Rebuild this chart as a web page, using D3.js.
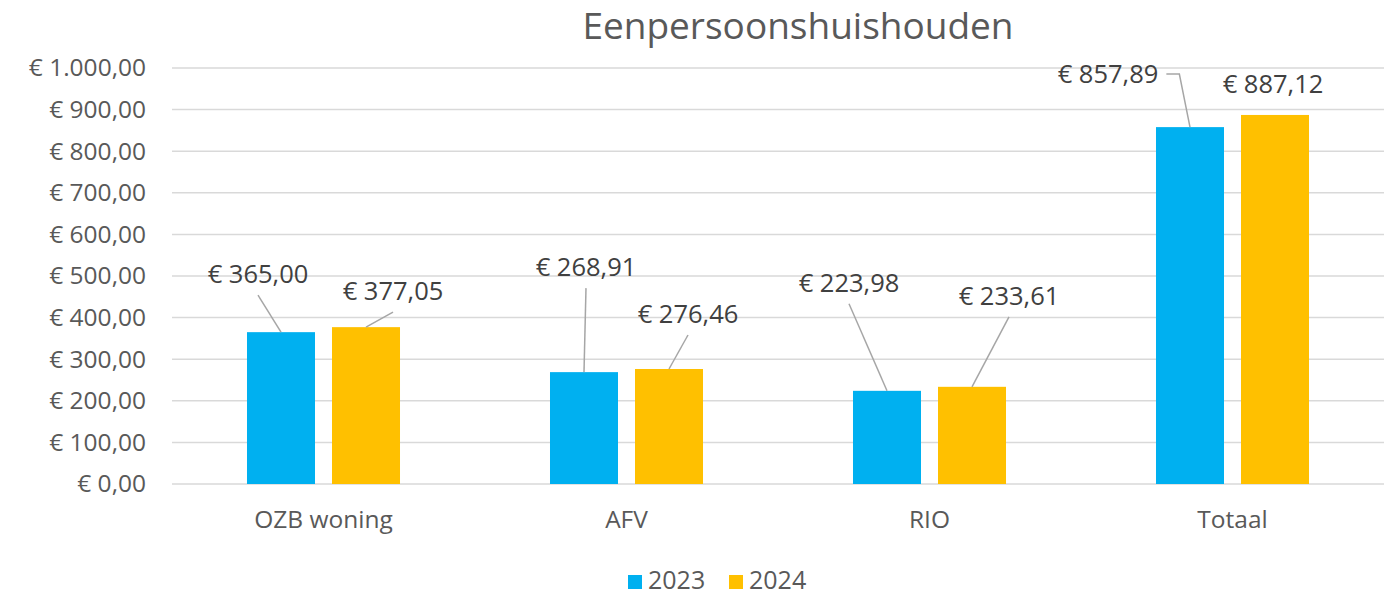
<!DOCTYPE html>
<html>
<head>
<meta charset="utf-8">
<script src="https://cdn.jsdelivr.net/npm/d3@7"></script>
<style>
  body { margin: 0; background: #fff; }
  svg { font-family: "Open Sans", "Noto Sans", sans-serif; }
</style>
</head>
<body>
<svg id="chart"></svg>
<script>
var width = 1391;
var height = 595;

// data
var categories = ["OZB woning", "AFV", "RIO", "Totaal"];
var series = ["2023", "2024"];
var values2023 = [365.00, 268.91, 223.98, 857.89];
var values2024 = [377.05, 276.46, 233.61, 887.12];
var yTicks = [0, 100, 200, 300, 400, 500, 600, 700, 800, 900, 1000];
var colors = ["#00B0F0", "#FFC000"];

// where the data labels were dragged to (offset from top centre of bar), per series
var labelOffsets2023 = [[-23, -49], [2, -96], [-38, -99], [-82, -44]];
var labelOffsets2024 = [[27, -27], [19, -46], [37, -82], [-2, -22]];

var nl = d3.formatLocale({
    decimal: ",",
    thousands: ".",
    grouping: [3],
    currency: ["€ ", ""]
});
var fmt = nl.format("$,.2f");

var margin = { top: 68, right: 7, bottom: 111, left: 172 };

var svg = d3.select("#chart").attr("width", width).attr("height", height);

var x0 = d3.scaleBand()
    .domain(categories)
    .range([margin.left, width - margin.right])
    .paddingInner(0.495)
    .paddingOuter(0.2475);

var x1 = d3.scaleBand()
    .domain(series)
    .range([0, x0.bandwidth()])
    .paddingInner(0.2);

var y = d3.scaleLinear()
    .domain([0, 1000])
    .range([height - margin.bottom, margin.top]);

// title
svg.append("text")
    .attr("x", 798)
    .attr("y", 39)
    .attr("text-anchor", "middle")
    .style("font-size", "37px")
    .style("fill", "#595959")
    .text("Eenpersoonshuishouden");

// gridlines
svg.append("g")
    .selectAll("line")
    .data(yTicks)
    .enter()
    .append("line")
    .attr("x1", margin.left)
    .attr("x2", width - margin.right)
    .attr("y1", function (d) { return y(d); })
    .attr("y2", function (d) { return y(d); })
    .attr("stroke", "#d9d9d9")
    .attr("stroke-width", 1.5);

// y axis labels
var yAxis = d3.axisLeft(y)
    .tickValues(yTicks)
    .tickFormat(fmt)
    .tickSize(0)
    .tickPadding(26);

var yg = svg.append("g")
    .attr("transform", "translate(" + margin.left + ",0)")
    .call(yAxis);
yg.select(".domain").remove();
yg.selectAll("text")
    .style("font-size", "24.5px")
    .style("font-family", "'Open Sans', sans-serif")
    .attr("fill", "#595959");

// x axis labels
var xAxis = d3.axisBottom(x0).tickSize(0).tickPadding(27);
var xg = svg.append("g")
    .attr("transform", "translate(0," + y(0) + ")")
    .call(xAxis);
xg.select(".domain").remove();
xg.selectAll("text")
    .style("font-size", "24.5px")
    .style("font-family", "'Open Sans', sans-serif")
    .attr("fill", "#595959");

// rows for bars
var rows = [];
categories.forEach(function (c, i) {
    rows.push({ cat: c, s: 0, value: values2023[i], off: labelOffsets2023[i] });
    rows.push({ cat: c, s: 1, value: values2024[i], off: labelOffsets2024[i] });
});

svg.append("g")
    .selectAll("rect")
    .data(rows)
    .enter()
    .append("rect")
    .attr("x", function (d) { return x0(d.cat) + x1(series[d.s]); })
    .attr("y", function (d) { return y(d.value); })
    .attr("width", x1.bandwidth())
    .attr("height", function (d) { return y(0) - y(d.value); })
    .attr("fill", function (d) { return colors[d.s]; });

// data labels with leader lines
var labels = svg.append("g");
rows.forEach(function (d) {
    var bx = x0(d.cat) + x1(series[d.s]) + x1.bandwidth() / 2;
    var by = y(d.value);
    var tx = bx + d.off[0];
    var ty = by + d.off[1];

    var t = labels.append("text")
        .attr("x", tx)
        .attr("y", ty)
        .attr("text-anchor", "middle")
        .style("font-size", "25.5px")
        .style("fill", "#404040")
        .text(fmt(d.value));

    var dist = Math.sqrt(d.off[0] * d.off[0] + d.off[1] * d.off[1]);
    if (dist < 30) return; // label sits at default spot, no leader

    var b = t.node().getBBox();
    var path;
    if (Math.abs(d.off[0]) > b.width / 2) {
        // label beside the bar: elbow from its side
        var sx = d.off[0] < 0 ? b.x + b.width + 8 : b.x - 8;
        var sy = ty - 9;
        var ex = d.off[0] < 0 ? sx + 13 : sx - 13;
        path = "M" + sx + "," + sy + "L" + ex + "," + sy + "L" + bx + "," + by;
    } else {
        path = "M" + tx + "," + (ty + 12) + "L" + bx + "," + by;
    }
    labels.append("path")
        .attr("d", path)
        .attr("fill", "none")
        .attr("stroke", "#a6a6a6")
        .attr("stroke-width", 1.5);
});

// legend
var legend = svg.append("g").attr("transform", "translate(628,581)");
var item = legend.selectAll("g")
    .data(series)
    .enter()
    .append("g")
    .attr("transform", function (d, i) { return "translate(" + (i * 101) + ",0)"; });
item.append("rect")
    .attr("x", 0)
    .attr("y", -6)
    .attr("width", 14)
    .attr("height", 14)
    .attr("fill", function (d, i) { return colors[i]; });
item.append("text")
    .attr("x", 20)
    .attr("y", 8)
    .style("font-size", "25px")
    .style("fill", "#595959")
    .text(function (d) { return d; });
</script>
</body>
</html>
